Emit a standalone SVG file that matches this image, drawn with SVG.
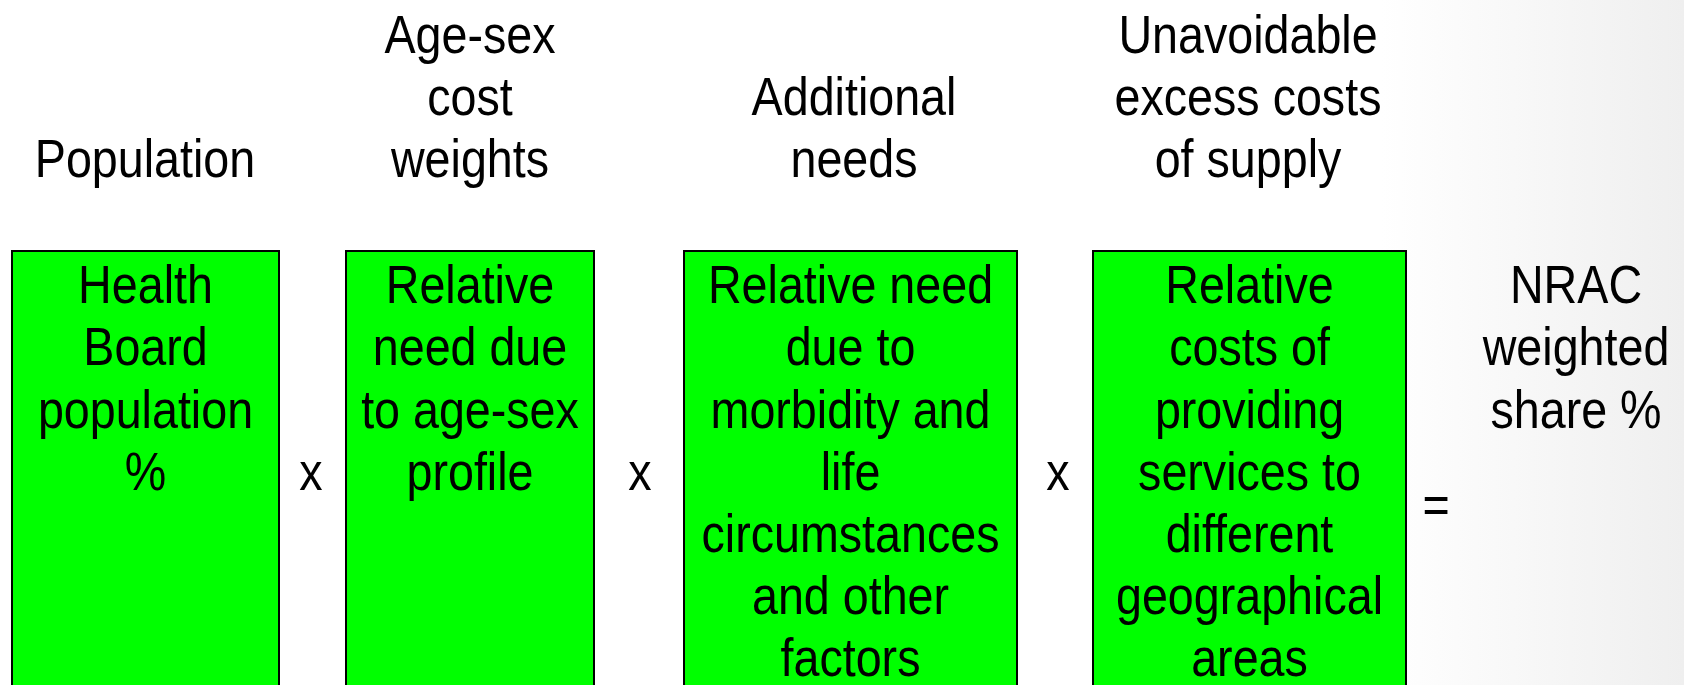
<svg xmlns="http://www.w3.org/2000/svg" width="1684" height="685" viewBox="0 0 1684 685">
<defs>
<linearGradient id="bg" x1="0" y1="0" x2="1" y2="0">
<stop offset="0" stop-color="#ffffff"/>
<stop offset="0.82" stop-color="#ffffff"/>
<stop offset="1" stop-color="#efefef"/>
</linearGradient>
<style>
.box{fill:#00ff00;stroke:#000;stroke-width:2}
.t{font-family:"Liberation Sans",Arial,sans-serif;font-size:53px;fill:#000;text-anchor:middle}
</style>
</defs>
<rect x="0" y="0" width="1684" height="685" fill="url(#bg)"/>

<g id="header-population"><text class="t" transform="translate(145,0) scale(0.88,1)" y="177">Population</text></g>
<g id="header-agesex"><text class="t" transform="translate(470,0) scale(0.88,1)"><tspan x="0" y="53">Age-sex</tspan><tspan x="0" y="115">cost</tspan><tspan x="0" y="177">weights</tspan></text></g>
<g id="header-additional"><text class="t" transform="translate(854,0) scale(0.88,1)"><tspan x="0" y="115">Additional</tspan><tspan x="0" y="177">needs</tspan></text></g>
<g id="header-unavoidable"><text class="t" transform="translate(1248,0) scale(0.88,1)"><tspan x="0" y="53">Unavoidable</tspan><tspan x="0" y="115">excess costs</tspan><tspan x="0" y="177">of supply</tspan></text></g>

<g id="box-population">
<rect class="box" x="12" y="251" width="267" height="450"/>
<text class="t" transform="translate(145.5,0) scale(0.88,1)"><tspan x="0" y="303">Health</tspan><tspan x="0" y="365">Board</tspan><tspan x="0" y="428">population</tspan><tspan x="0" y="490">%</tspan></text>
</g>
<g id="box-agesex">
<rect class="box" x="346" y="251" width="248" height="450"/>
<text class="t" transform="translate(470,0) scale(0.88,1)"><tspan x="0" y="303">Relative</tspan><tspan x="0" y="365">need due</tspan><tspan x="0" y="428">to age-sex</tspan><tspan x="0" y="490">profile</tspan></text>
</g>
<g id="box-additional">
<rect class="box" x="684" y="251" width="333" height="450"/>
<text class="t" transform="translate(850.5,0) scale(0.88,1)"><tspan x="0" y="303">Relative need</tspan><tspan x="0" y="365">due to</tspan><tspan x="0" y="428">morbidity and</tspan><tspan x="0" y="490">life</tspan><tspan x="0" y="552">circumstances</tspan><tspan x="0" y="614">and other</tspan><tspan x="0" y="676">factors</tspan></text>
</g>
<g id="box-supply">
<rect class="box" x="1093" y="251" width="313" height="450"/>
<text class="t" transform="translate(1249.5,0) scale(0.88,1)"><tspan x="0" y="303">Relative</tspan><tspan x="0" y="365">costs of</tspan><tspan x="0" y="428">providing</tspan><tspan x="0" y="490">services to</tspan><tspan x="0" y="552">different</tspan><tspan x="0" y="614">geographical</tspan><tspan x="0" y="676">areas</tspan></text>
</g>

<g id="operators">
<text class="t" transform="translate(311,0) scale(0.88,1)" y="490">x</text>
<text class="t" transform="translate(640,0) scale(0.88,1)" y="490">x</text>
<text class="t" transform="translate(1058,0) scale(0.88,1)" y="490">x</text>
<text class="t" transform="translate(1436,0) scale(0.88,1)" y="523">=</text>
</g>

<g id="result">
<text class="t" transform="translate(1576,0) scale(0.88,1)"><tspan x="0" y="303">NRAC</tspan><tspan x="0" y="365">weighted</tspan><tspan x="0" y="428">share %</tspan></text>
</g>
</svg>
